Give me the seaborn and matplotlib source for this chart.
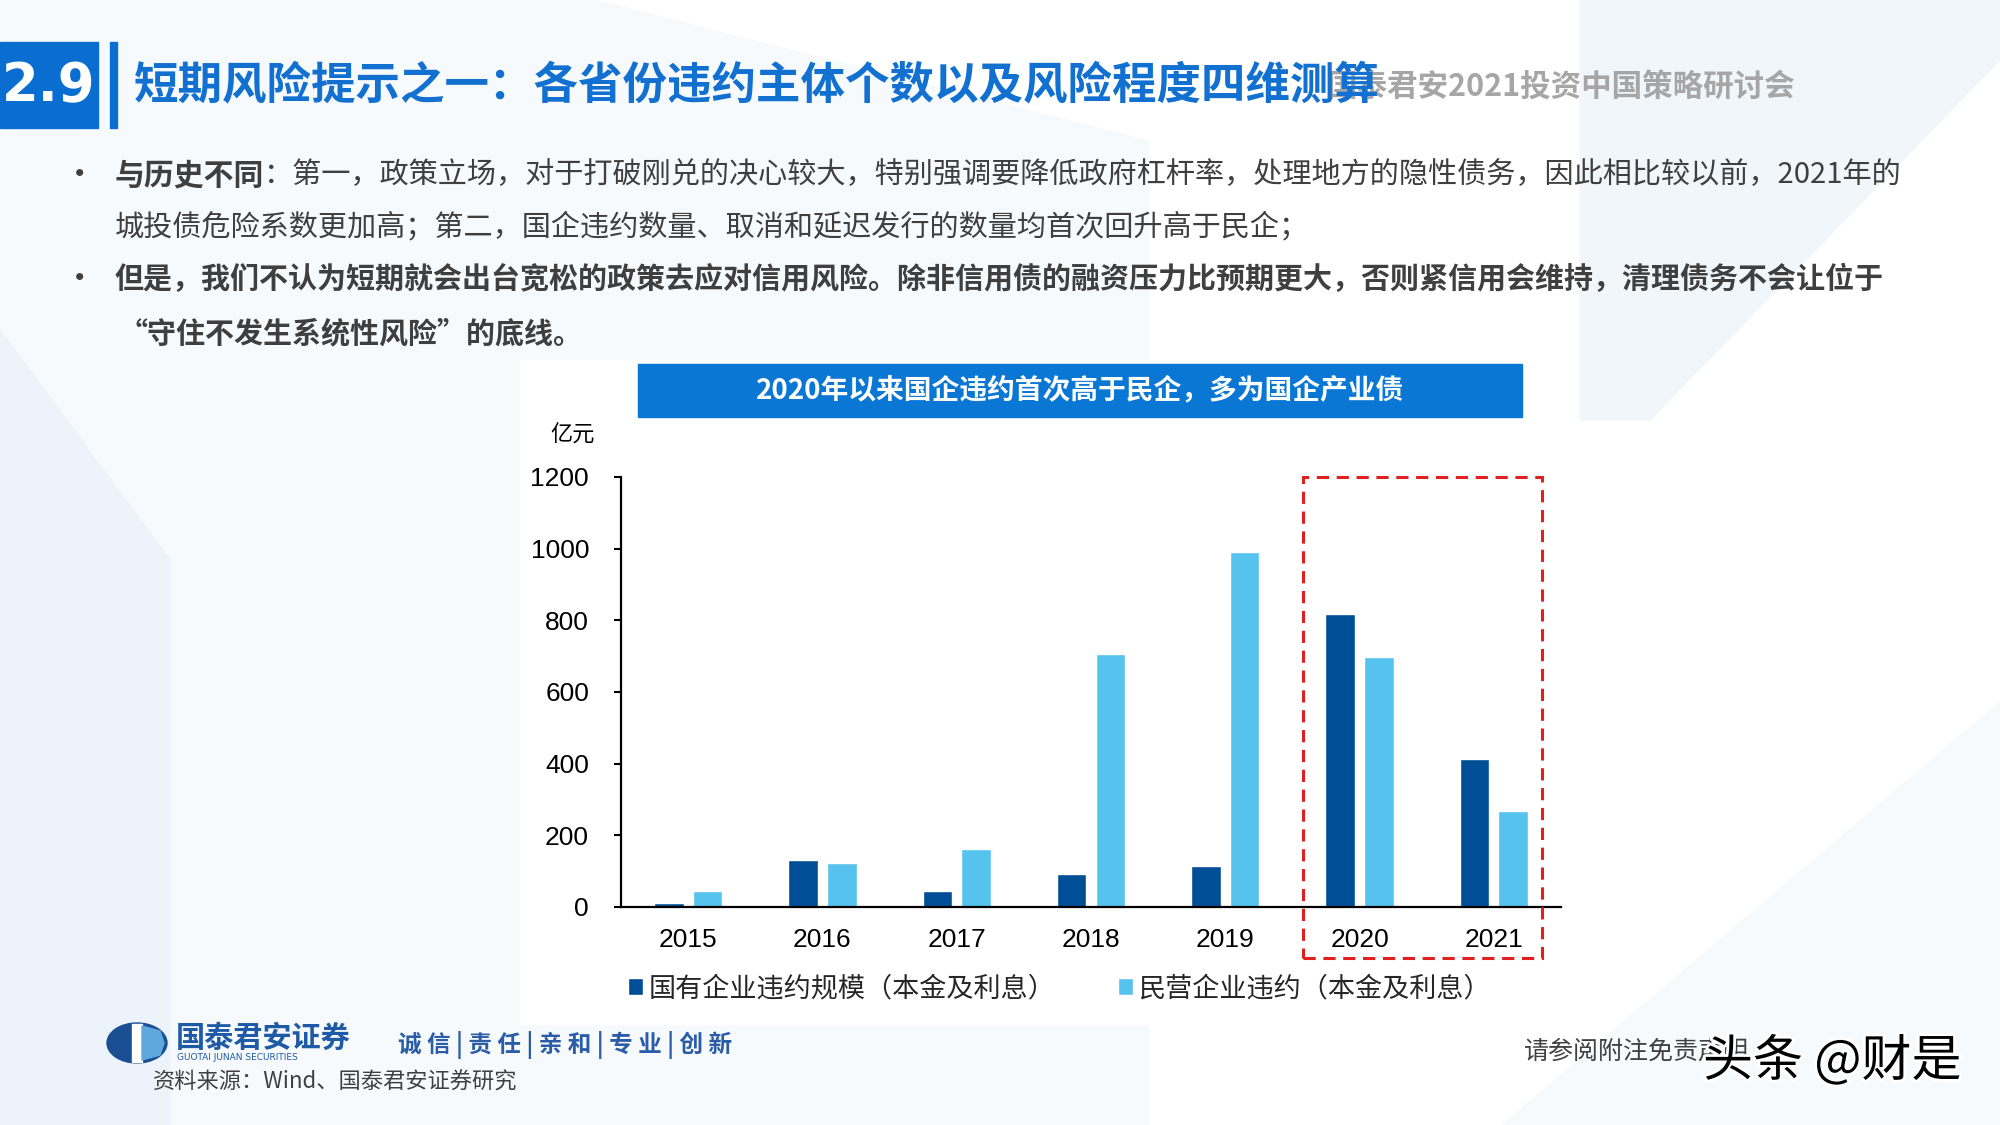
import numpy as np
import pandas as pd
import seaborn as sns
import matplotlib.pyplot as plt
from matplotlib import font_manager
from matplotlib.patches import Rectangle, Polygon, Ellipse
import matplotlib.patheffects as pe

# ---- data (亿元) ----
years = ['2015', '2016', '2017', '2018', '2019', '2020', '2021']
soe_default = [10, 132, 45, 93, 113, 819, 413]
private_default = [45, 124, 163, 706, 992, 698, 269]
series_names = ['国有企业违约规模（本金及利息）', '民营企业违约（本金及利息）']
yticks = [0, 200, 400, 600, 800, 1000, 1200]

colors = ['#004E96', '#56C3EF']

sns.set_theme(style='white')
CJK = ['Noto Sans CJK SC', 'DejaVu Sans']
plt.rcParams['font.family'] = CJK

names = {f.name for f in font_manager.fontManager.ttflist}
NUM = ['Liberation Sans Narrow'] if 'Liberation Sans Narrow' in names else ['Liberation Sans']
num_size = 21 if NUM[0] == 'Liberation Sans Narrow' else 19

df = pd.DataFrame({
    'year': years * 2,
    'value': soe_default + private_default,
    'type': [series_names[0]] * len(years) + [series_names[1]] * len(years),
})

fig = plt.figure(figsize=(20, 11.25), dpi=100)
fig.patch.set_facecolor('#F7FAFD')

# background layer in pixel coords
bg = fig.add_axes([0, 0, 1, 1], zorder=0)
bg.set_xlim(0, 2000)
bg.set_ylim(1125, 0)
bg.axis('off')
bg.add_patch(Polygon([[600, 0], [2000, 0], [2000, 700], [1500, 1125], [1150, 1125], [1150, 140]],
                     closed=True, color='white', zorder=0))
bg.add_patch(Polygon([[0, 330], [170, 560], [170, 1125], [0, 1125]], closed=True,
                     color='#EDF3FA', zorder=0))
bg.add_patch(Polygon([[1580, 0], [2000, 0], [2000, 60], [1650, 420], [1580, 420]], closed=True,
                     color='#F1F6FB', zorder=0))
bg.add_patch(Rectangle((520, 360), 1058, 664, color='white', zorder=1))

# chart axes
ax = fig.add_axes([0.3105, 0.1938, 0.47, 0.3822], zorder=2)
ax.set_facecolor('none')
sns.barplot(data=df, x='year', y='value', hue='type', palette=colors,
            width=0.576, gap=0.236, saturation=1, ax=ax, legend=True)

ax.set_xlim(-0.5, len(years) - 0.5)
ax.set_ylim(0, 1200)
ax.set_yticks(yticks)
ax.set_yticklabels([str(v) for v in yticks], fontsize=num_size, family=NUM)
ax.set_xticks(range(len(years)))
ax.set_xticklabels(years, fontsize=num_size, family=NUM)
ax.set_xticks(np.arange(-0.5, len(years)), minor=True)
ax.tick_params(axis='x', which='major', length=0, pad=15, colors='black')
ax.tick_params(axis='x', which='minor', length=7, width=1.5, direction='out', color='black')
ax.tick_params(axis='y', which='major', length=5, width=1.5, direction='out', pad=18,
               colors='black', left=True)
ax.set_xlabel('')
ax.set_ylabel('')
for side in ['top', 'right']:
    ax.spines[side].set_visible(False)
for side in ['left', 'bottom']:
    ax.spines[side].set_color('black')
    ax.spines[side].set_linewidth(1.6)

# red dashed highlight box around 2020-2021
i0 = years.index('2020')
ax.add_patch(Rectangle((i0 - 0.42, -142), (len(years) - 1 + 0.36) - (i0 - 0.42), 1342,
                       fill=False, edgecolor='#E02020', linewidth=2.2,
                       linestyle=(0, (4, 2.5)), clip_on=False, zorder=5))

handles, labels = ax.get_legend_handles_labels()
ax.legend(handles, labels, loc='center left', bbox_to_anchor=(-0.018, -0.19), ncol=2,
          frameon=False, handlelength=0.55, handleheight=0.55, handletextpad=0.2,
          columnspacing=2.3, prop={'family': CJK, 'size': 19.5})

# foreground text layer
fg = fig.add_axes([0, 0, 1, 1], zorder=3)
fg.set_xlim(0, 2000)
fg.set_ylim(1125, 0)
fg.axis('off')
fg.patch.set_alpha(0)

# header
fg.add_patch(Rectangle((0, 42), 98, 86, color='#0A6ED1'))
fg.add_patch(Rectangle((110, 42), 7, 86, color='#0A6ED1'))
fg.text(49, 86, '2.9', color='white', fontsize=38, fontweight='bold', ha='center', va='center',
        family=['DejaVu Sans'])
fg.text(1327, 87, '国泰君安2021投资中国策略研讨会', color='#A6A6A6', fontsize=22,
        fontweight='bold', ha='left', va='center', zorder=1)
fg.text(134, 85, '短期风险提示之一：各省份违约主体个数以及风险程度四维测算', color='#1170D0',
        fontsize=32, fontweight='bold', ha='left', va='center', zorder=2)

# bullets
renderer = fig.canvas.get_renderer()


def draw_runs(x, y, runs):
    for s, weight, size in runs:
        t = fg.text(x, y, s, fontsize=size, fontweight=weight, color='#3F3F3F',
                    ha='left', va='center')
        x += t.get_window_extent(renderer=renderer).width


fg.text(80, 175, '•', fontsize=24, color='#3F3F3F', ha='center', va='center')
fg.text(80, 279, '•', fontsize=24, color='#3F3F3F', ha='center', va='center')
draw_runs(115, 175, [('与历史不同', 'bold', 21.5),
                     ('：第一，政策立场，对于打破刚兑的决心较大，特别强调要降低政府杠杆率，处理地方的隐性债务，因此相比较以前，2021年的', 'normal', 21)])
draw_runs(115, 227, [('城投债危险系数更加高；第二，国企违约数量、取消和延迟发行的数量均首次回升高于民企；', 'normal', 21)])
draw_runs(115, 279, [('但是，我们不认为短期就会出台宽松的政策去应对信用风险。除非信用债的融资压力比预期更大，否则紧信用会维持，清理债务不会让位于', 'bold', 20.9)])
draw_runs(118, 333, [('“守住不发生系统性风险”的底线。', 'bold', 20.9)])

# chart title bar
fg.add_patch(Rectangle((638, 364), 884, 53, color='#0A77D5'))
fg.text(1080, 390, '2020年以来国企违约首次高于民企，多为国企产业债', color='white',
        fontsize=20, fontweight='bold', ha='center', va='center')
fg.text(573, 435, '亿元', fontsize=16, color='black', ha='center', va='center')

# footer
fg.add_patch(Ellipse((137, 1043), 60, 40, color='#1B4F93'))
fg.add_patch(Polygon([[132, 1024], [142, 1024], [142, 1062], [132, 1062]], closed=True, color='white'))
fg.add_patch(Polygon([[142, 1026], [160, 1031], [164, 1043], [160, 1055], [142, 1060]],
                     closed=True, color='#5FA8DE'))
fg.text(176, 1038, '国泰君安证券', color='#1F5AA6', fontsize=21, fontweight='bold',
        ha='left', va='center')
fg.text(177, 1058, 'GUOTAI JUNAN SECURITIES', color='#1F5AA6', fontsize=6.5,
        ha='left', va='center', family=['DejaVu Sans'])
fg.text(398, 1045, '诚 信 | 责 任 | 亲 和 | 专 业 | 创 新', color='#2A5CA8', fontsize=17,
        fontweight='bold', ha='left', va='center')
fg.text(153, 1082, '资料来源：Wind、国泰君安证券研究', color='#404040', fontsize=16,
        ha='left', va='center')
fg.text(1524, 1052, '请参阅附注免责声明', color='#404040', fontsize=18, ha='left', va='center')
fg.text(1703, 1062, '头条 @财是', color='black', fontsize=36, ha='left', va='center',
        path_effects=[pe.withStroke(linewidth=4, foreground='white')])

fig.savefig('out.png', dpi=100, facecolor=fig.get_facecolor())
